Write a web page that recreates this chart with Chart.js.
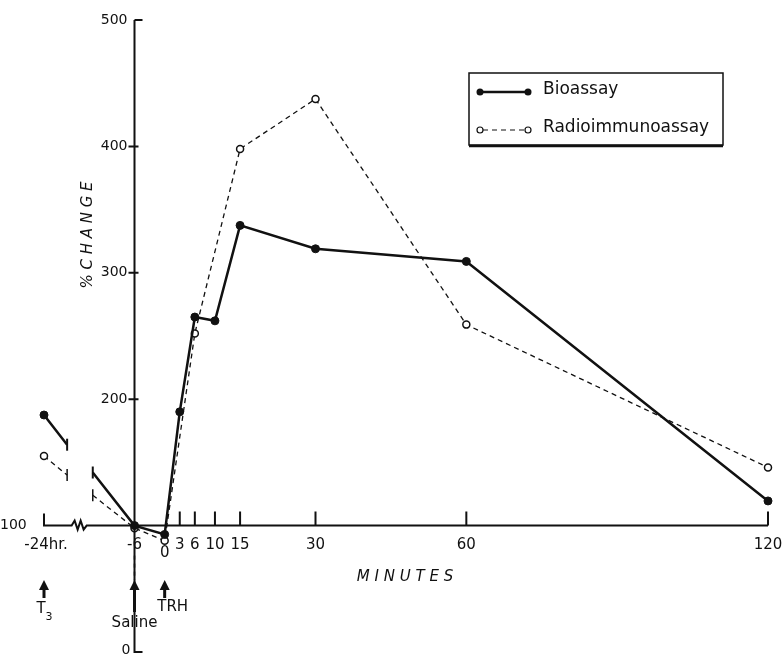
<!DOCTYPE html>
<html>
<head>
<meta charset="utf-8">
<script src="https://cdn.jsdelivr.net/npm/chart.js@4/dist/chart.umd.min.js"></script>
<style>
  body { margin: 0; background: #fff; }
  #wrap { width: 784px; height: 659px; }
</style>
</head>
<body>
<div id="wrap"><canvas id="chart"></canvas></div>
<script>
// minutes relative to TRH; null value = broken axis gap
var bioMinutes = [-24, -19.4, -17, -14.3, -6, 0, 3, 6, 10, 15, 30, 60, 120];
var bioValues  = [187.5, 164, null, 142, 100, 93, 190, 265, 262, 337.5, 319, 309, 119.5];
var rioMinutes = [-24, -19.4, -17, -14.3, -6, 0, 6, 15, 30, 60, 120];
var rioValues  = [155, 140, null, 124, 98, 88, 252, 398, 437.5, 259, 146];
var breakMinutes = [-19.4, -14.3];
var xTicks = [3, 6, 10, 15, 30, 60, 120];
var yTicks = [200, 300, 400, 500];

function toPoints(xs, ys) {
  return xs.map((x, i) => ({ x: x, y: ys[i] }));
}
function isBreak(ctx) {
  return ctx.raw && breakMinutes.indexOf(ctx.raw.x) !== -1;
}

const ink = '#111';
const font = '"DejaVu Sans", sans-serif';

const axesPlugin = {
  id: 'axes',
  afterDraw(chart) {
    const c = chart.ctx;
    const xs = chart.scales.x, ys = chart.scales.y;
    const X = v => xs.getPixelForValue(v), Y = v => ys.getPixelForValue(v);
    c.save();
    c.strokeStyle = ink; c.fillStyle = ink; c.lineWidth = 2;
    // y axis
    c.beginPath();
    c.moveTo(X(-6), Y(500)); c.lineTo(X(-6), Y(0));
    c.lineTo(X(-6) + 8, Y(0));
    c.moveTo(X(-6), Y(500)); c.lineTo(X(-6) + 8, Y(500));
    yTicks.slice(0, 3).forEach(v => { c.moveTo(X(-6) - 6, Y(v)); c.lineTo(X(-6) + 4, Y(v)); });
    c.stroke();
    // x axis with break zigzag
    const y0 = Y(100);
    c.beginPath();
    c.moveTo(X(-24), y0 - 12); c.lineTo(X(-24), y0); c.lineTo(X(-18.5), y0);
    const zx = X(-18.5);
    c.lineTo(zx + 3, y0 - 5); c.lineTo(zx + 6, y0 + 4); c.lineTo(zx + 9, y0 - 5);
    c.lineTo(zx + 12, y0 + 4); c.lineTo(zx + 15, y0);
    c.lineTo(X(120), y0);
    xTicks.forEach(v => { c.moveTo(X(v), y0); c.lineTo(X(v), y0 - 14); });
    c.stroke();
    // tick labels
    c.font = '14px ' + font;
    c.textAlign = 'right'; c.textBaseline = 'middle';
    yTicks.forEach(v => c.fillText(String(v), X(-6) - 7, Y(v)));
    c.textAlign = 'left';
    c.fillText('100', 0, y0);
    c.textAlign = 'right';
    c.fillText('0', X(-6) - 4, Y(0) - 2);
    c.textAlign = 'center'; c.textBaseline = 'top';
    c.font = '15px ' + font;
    xTicks.forEach(v => c.fillText(String(v), X(v), y0 + 12));
    c.fillText('-24hr.', X(-24) + 2, y0 + 12);
    c.fillText('-6', X(-6), y0 + 12);
    c.fillText('0', X(0), y0 + 20);
    // axis titles
    c.font = 'italic 15px ' + font;
    c.fillText('M I N U T E S', 405, 570);
    c.save();
    c.translate(88, 235); c.rotate(-Math.PI / 2);
    c.textBaseline = 'middle';
    c.fillText('% C H A N G E', 0, 0);
    c.restore();
    // arrows
    function arrow(x, top, bottom) {
      c.beginPath(); c.moveTo(x, top + 8); c.lineTo(x, bottom); c.lineWidth = 3; c.stroke();
      c.beginPath(); c.moveTo(x, top); c.lineTo(x - 5, top + 10); c.lineTo(x + 5, top + 10); c.closePath(); c.fill();
    }
    arrow(X(-24), 580, 598);
    arrow(X(-6), 580, 612);
    arrow(X(0), 580, 598);
    c.lineWidth = 1.5; c.setLineDash([4, 4]);
    c.beginPath(); c.moveTo(X(-6), y0 + 30); c.lineTo(X(-6), 580); c.stroke();
    c.setLineDash([]);
    c.font = '15px ' + font;
    c.fillText('T', X(-24) - 3, 602);
    c.font = '11px ' + font; c.fillText('3', X(-24) + 5, 612);
    c.font = '15px ' + font;
    c.fillText('TRH', X(0) + 8, 600);
    c.fillText('Saline', X(-6), 616);
    // legend
    c.lineWidth = 1.5;
    c.strokeRect(469, 73, 254, 72);
    c.lineWidth = 2.5;
    c.beginPath(); c.moveTo(469, 146); c.lineTo(723, 146); c.stroke();
    c.lineWidth = 2.5;
    c.beginPath(); c.moveTo(480, 92); c.lineTo(528, 92); c.stroke();
    [480, 528].forEach(x => { c.beginPath(); c.arc(x, 92, 3.5, 0, Math.PI * 2); c.fill(); });
    c.lineWidth = 1.2; c.setLineDash([5, 4]);
    c.beginPath(); c.moveTo(483, 130); c.lineTo(525, 130); c.stroke();
    c.setLineDash([]);
    [480, 528].forEach(x => {
      c.beginPath(); c.arc(x, 130, 3, 0, Math.PI * 2);
      c.fillStyle = '#fff'; c.fill(); c.stroke();
    });
    c.fillStyle = ink;
    c.textAlign = 'left'; c.textBaseline = 'middle';
    c.font = '17px ' + font;
    c.fillText('Bioassay', 543, 90);
    c.fillText('Radioimmunoassay', 543, 128);
    c.restore();
  }
};

new Chart(document.getElementById('chart'), {
  type: 'line',
  data: {
    datasets: [
      {
        label: 'Bioassay',
        data: toPoints(bioMinutes, bioValues),
        borderColor: ink,
        borderWidth: 2.5,
        backgroundColor: ink,
        pointBackgroundColor: ink,
        pointBorderColor: ink,
        pointRadius: ctx => isBreak(ctx) ? 6 : 4,
        pointStyle: ctx => isBreak(ctx) ? 'line' : 'circle',
        pointRotation: 90,
        pointBorderWidth: ctx => isBreak(ctx) ? 2 : 1,
        spanGaps: false,
        clip: false,
        tension: 0
      },
      {
        label: 'Radioimmunoassay',
        data: toPoints(rioMinutes, rioValues),
        borderColor: ink,
        borderWidth: 1.3,
        borderDash: [5, 4],
        pointBackgroundColor: '#fff',
        pointBorderColor: ink,
        pointRadius: ctx => isBreak(ctx) ? 6 : 3.5,
        pointStyle: ctx => isBreak(ctx) ? 'line' : 'circle',
        pointRotation: 90,
        pointBorderWidth: 1.5,
        spanGaps: false,
        clip: false,
        tension: 0
      }
    ]
  },
  options: {
    responsive: true,
    maintainAspectRatio: false,
    animation: false,
    layout: { padding: { left: 44, right: 16, top: 20, bottom: 7 } },
    plugins: { legend: { display: false }, tooltip: { enabled: false } },
    scales: {
      x: { type: 'linear', min: -24, max: 120, display: false },
      y: { type: 'linear', min: 0, max: 500, display: false }
    }
  },
  plugins: [axesPlugin]
});
</script>
</body>
</html>
